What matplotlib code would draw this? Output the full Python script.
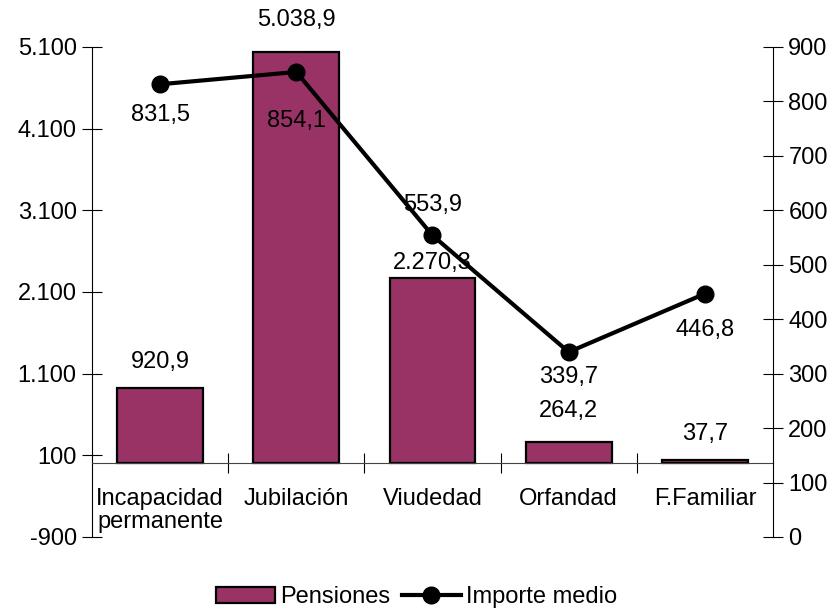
'''

  Pensiones contributivas: numero de pensiones e importe medio por clase

'''

import numpy as np
from matplotlib import pyplot as plt
from matplotlib.patches import Patch
from matplotlib.lines import Line2D

# Data

clases = ['Incapacidad\npermanente', 'Jubilación', 'Viudedad', 'Orfandad', 'F.Familiar']
pensiones = [920.9, 5038.9, 2270.3, 264.2, 37.7]      # miles
importe = [831.5, 854.1, 553.9, 339.7, 446.8]         # euros

left_ticks = [-900, 100, 1100, 2100, 3100, 4100, 5100]
right_ticks = [0, 100, 200, 300, 400, 500, 600, 700, 800, 900]

# label offsets in points (bars, line)
bar_off = [(0, 19), (0, 23), (0, 11), (0, 22), (0, 19)]
line_off = [(0, -22), (0, -35), (0, 22), (0, -18), (0, -26)]

def fmt_es(v, dec=1):
    s = f'{v:,.{dec}f}'
    return s.replace(',', 'X').replace('.', ',').replace('X', '.')

plt.rcParams['font.family'] = ['Liberation Sans', 'DejaVu Sans']
plt.rcParams['font.size'] = 17

fig = plt.figure(figsize=(8.33, 6.10), dpi=100)
ax = fig.add_axes([0.1104, 0.1197, 0.8176, 0.8033])
x = np.arange(len(clases))

ax.bar(x, pensiones, width=0.63, color='#993366', edgecolor='black', linewidth=1.6, zorder=2)
ax.set_xlim(-0.5, len(clases) - 0.5)
ax.set_ylim(-900, 5100)
ax.set_yticks(left_ticks)
ax.set_yticklabels([fmt_es(t, 0) for t in left_ticks])
ax.tick_params(axis='y', direction='inout', length=14, width=0.8, pad=4)

for s in ['top', 'right']:
    ax.spines[s].set_visible(False)
ax.spines['left'].set_linewidth(0.8)
ax.spines['bottom'].set_position(('data', 0))
ax.spines['bottom'].set_color('#444444')
ax.spines['bottom'].set_linewidth(0.8)

# category labels on major ticks, boundary marks on minor ticks
ax.set_xticks(x)
ax.set_xticklabels(clases, linespacing=1.05)
ax.set_xticks(x[:-1] + 0.5, minor=True)
ax.tick_params(axis='x', which='major', length=0, pad=18)
ax.tick_params(axis='x', which='minor', direction='inout', length=14, width=0.8)

for xi, v, off in zip(x, pensiones, bar_off):
    ax.annotate(fmt_es(v), (xi, v), xytext=off, textcoords='offset points',
                ha='center', va='center')

# second axis for importe medio
ax2 = ax.twinx()
ax2.set_ylim(0, 900)
ax2.set_yticks(right_ticks)
ax2.tick_params(axis='y', direction='inout', length=14, width=0.8, pad=4)
for s in ['top', 'left', 'bottom']:
    ax2.spines[s].set_visible(False)
ax2.spines['right'].set_linewidth(0.8)

ax2.plot(x, importe, '-o', color='black', linewidth=3, markersize=12, zorder=3)
for xi, v, off in zip(x, importe, line_off):
    ax2.annotate(fmt_es(v), (xi, v), xytext=off, textcoords='offset points',
                 ha='center', va='center')

handles = [Patch(facecolor='#993366', edgecolor='black', linewidth=1.6),
           Line2D([], [], color='black', linewidth=3, marker='o', markersize=12)]
fig.legend(handles, ['Pensiones', 'Importe medio'], loc='center',
           bbox_to_anchor=(0.5, 0.021), ncol=2, frameon=False,
           handlelength=2.5, handletextpad=0.2, columnspacing=0.5)

plt.savefig('out.png', dpi=100)
